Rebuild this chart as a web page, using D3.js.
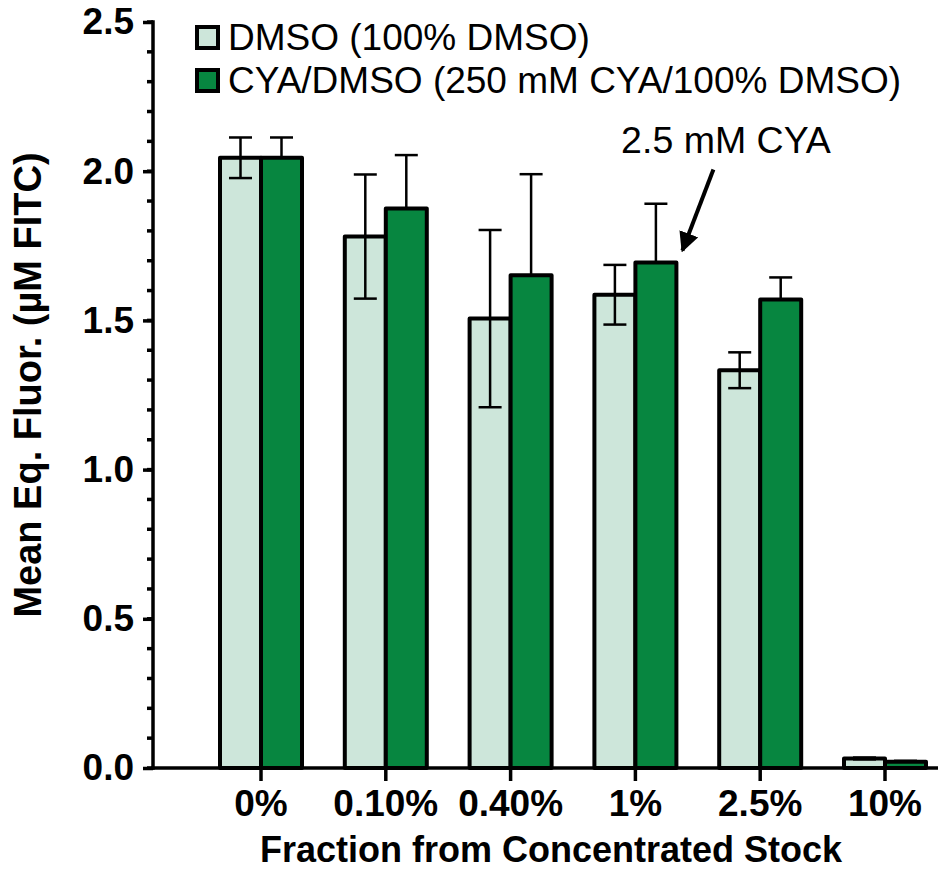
<!DOCTYPE html>
<html>
<head>
<meta charset="utf-8">
<script src="https://cdn.jsdelivr.net/npm/d3@7"></script>
<style>
  html, body { margin: 0; padding: 0; background: #fff; }
  svg { display: block; }
  text { font-family: "Liberation Sans", Arial, Helvetica, sans-serif; fill: #000; }
</style>
</head>
<body>
<svg id="chart" width="938" height="871"></svg>
<script>
// Fractions of the concentrated stock
const categories = ["0%", "0.10%", "0.40%", "1%", "2.5%", "10%"];
// Mean equivalent fluorescence (µM FITC) and error
const dmsoMean = [2.045, 1.781, 1.506, 1.586, 1.333, 0.032];
const dmsoErr  = [0.068, 0.208, 0.297, 0.100, 0.060, 0.003];
const cyaMean  = [2.045, 1.875, 1.651, 1.694, 1.570, 0.021];
const cyaErr   = [0.068, 0.179, 0.339, 0.197, 0.074, 0.003];
const seriesNames = ["DMSO (100% DMSO)", "CYA/DMSO (250 mM CYA/100% DMSO)"];
const seriesColors = ["#cde6da", "#078640"];
const yTicks = [0, 0.5, 1.0, 1.5, 2.0, 2.5];

const svg = d3.select("#chart");
const plot = { left: 153, top: 22, bottom: 768, right: 938 };

const y = d3.scaleLinear().domain([0, 2.5]).range([plot.bottom, plot.top]);
const x = d3.scaleBand().domain(categories).range([198.6, 947.4]).padding(0);
const sub = d3.scaleBand().domain([0, 1]).range([-41, 41]).padding(0);

const rows = categories.map((c, i) => ({
  cat: c,
  vals: [
    { s: 0, mean: dmsoMean[i], err: dmsoErr[i] },
    { s: 1, mean: cyaMean[i], err: cyaErr[i] }
  ]
}));

// Bars
const groups = svg.append("g").selectAll("g").data(rows).join("g")
  .attr("transform", d => `translate(${x(d.cat) + x.bandwidth() / 2},0)`);

groups.selectAll("rect").data(d => d.vals).join("rect")
  .attr("x", d => sub(d.s))
  .attr("width", sub.bandwidth())
  .attr("y", d => y(d.mean))
  .attr("height", d => y(0) - y(d.mean))
  .attr("fill", d => seriesColors[d.s])
  .attr("stroke", "#000")
  .attr("stroke-width", 4)
  .attr("stroke-linejoin", "round");

// Error bars: light series both ways, dark series upward only
const capW = 23;
groups.selectAll("g.err").data(d => d.vals).join("g")
  .attr("class", "err")
  .each(function(d) {
    const g = d3.select(this);
    const cx = sub(d.s) + sub.bandwidth() / 2;
    const hi = d.mean + d.err;
    const lo = d.s === 0 ? d.mean - d.err : d.mean;
    g.append("line").attr("x1", cx).attr("x2", cx)
      .attr("y1", y(hi)).attr("y2", y(lo))
      .attr("stroke", "#000").attr("stroke-width", 2.5);
    g.append("line").attr("x1", cx - capW / 2).attr("x2", cx + capW / 2)
      .attr("y1", y(hi)).attr("y2", y(hi))
      .attr("stroke", "#000").attr("stroke-width", 2.5);
    if (d.s === 0) {
      g.append("line").attr("x1", cx - capW / 2).attr("x2", cx + capW / 2)
        .attr("y1", y(lo)).attr("y2", y(lo))
        .attr("stroke", "#000").attr("stroke-width", 2.5);
    }
  });

// Y axis with minor ticks
const yMinor = d3.range(0, 2.5001, 0.1);
const yAxisG = svg.append("g").attr("transform", `translate(${plot.left},0)`);
yAxisG.selectAll("line.minor").data(yMinor).join("line")
  .attr("x1", -6).attr("x2", 0)
  .attr("y1", d => y(d)).attr("y2", d => y(d))
  .attr("stroke", "#000").attr("stroke-width", 3.5);
yAxisG.call(d3.axisLeft(y).tickValues(yTicks).tickFormat(d3.format(".1f"))
    .tickSize(10).tickPadding(9))
  .call(g => g.select(".domain").remove())
  .call(g => g.selectAll(".tick line").attr("stroke-width", 3.5))
  .call(g => g.selectAll(".tick text")
    .attr("font-size", 37).attr("font-weight", "bold")
    .attr("font-family", "Liberation Sans, Arial, sans-serif"));
yAxisG.append("line")
  .attr("x1", 0).attr("x2", 0)
  .attr("y1", y(2.5) - 1.75).attr("y2", y(0) + 1.75)
  .attr("stroke", "#000").attr("stroke-width", 3.5);

// X axis
const xAxisG = svg.append("g").attr("transform", `translate(0,${plot.bottom})`);
xAxisG.call(d3.axisBottom(x).tickSize(13).tickPadding(9))
  .call(g => g.select(".domain").remove())
  .call(g => g.selectAll(".tick line").attr("stroke-width", 3.5))
  .call(g => g.selectAll(".tick text")
    .attr("font-size", 37).attr("font-weight", "bold")
    .attr("font-family", "Liberation Sans, Arial, sans-serif"));
xAxisG.append("line")
  .attr("x1", plot.left - 1.75).attr("x2", plot.right)
  .attr("y1", 0).attr("y2", 0)
  .attr("stroke", "#000").attr("stroke-width", 3.5);

// Axis titles
svg.append("text")
  .attr("x", 551).attr("y", 862)
  .attr("text-anchor", "middle")
  .attr("font-size", 36).attr("font-weight", "bold")
  .text("Fraction from Concentrated Stock");

svg.append("text")
  .attr("transform", "translate(41,385) rotate(-90)")
  .attr("text-anchor", "middle")
  .attr("font-size", 38).attr("font-weight", "bold")
  .text("Mean Eq. Fluor. (µM FITC)");

// Legend
const legend = svg.append("g").selectAll("g").data(seriesNames).join("g")
  .attr("transform", (d, i) => `translate(195,${25 + i * 43})`);
legend.append("rect")
  .attr("x", 2).attr("y", 2).attr("width", 21).attr("height", 21)
  .attr("fill", (d, i) => seriesColors[i])
  .attr("stroke", "#000").attr("stroke-width", 4);
legend.append("text")
  .attr("x", 33).attr("y", 25)
  .attr("font-size", 37)
  .text(d => d);

// Annotation arrow pointing at the 1% CYA/DMSO bar
const defs = svg.append("defs");
defs.append("marker")
  .attr("id", "head").attr("viewBox", "0 0 10 10")
  .attr("refX", 9).attr("refY", 5)
  .attr("markerWidth", 5).attr("markerHeight", 5)
  .attr("markerUnits", "strokeWidth")
  .attr("orient", "auto")
  .append("path").attr("d", "M0,0 L10,5 L0,10 Z").attr("fill", "#000");

const tipX = x("1%") + x.bandwidth() / 2 + sub(1) + sub.bandwidth() + 6;
const tipY = y(cyaMean[3]) - 12;
svg.append("line")
  .attr("x1", tipX + 31).attr("y1", tipY - 81)
  .attr("x2", tipX).attr("y2", tipY)
  .attr("stroke", "#000").attr("stroke-width", 4)
  .attr("marker-end", "url(#head)");

svg.append("text")
  .attr("x", 726).attr("y", 153)
  .attr("text-anchor", "middle")
  .attr("font-size", 37.5)
  .text("2.5 mM CYA");
</script>
</body>
</html>
